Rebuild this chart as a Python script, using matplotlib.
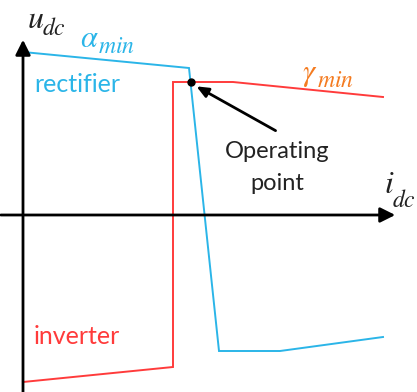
import matplotlib
matplotlib.use("Agg")
import matplotlib.pyplot as plt

plt.rcParams['mathtext.fontset'] = 'stix'

# Rectifier characteristic (alpha_min)
rect_x = [0, 166, 196, 257, 360]
rect_y = [163, 147, -136, -136, -122]
# Inverter characteristic (gamma_min)
inv_x = [0, 150, 150, 210, 360]
inv_y = [-167, -152, 133, 133, 118]
# Operating point
op_x, op_y = 168, 133

BLUE = '#2BB5E8'
RED = '#FF3B3B'
ORANGE = '#F47B20'
DARK = '#222222'

fig = plt.figure(figsize=(4.17, 3.92), dpi=100)
ax = fig.add_axes([0, 0, 1, 1])
ax.set_xlim(-23, 394)
ax.set_ylim(-177, 215)
ax.axis('off')

# Axes with arrows
ax.annotate('', xy=(0, 178), xytext=(0, -180),
            arrowprops=dict(arrowstyle='-|>,head_length=0.9,head_width=0.45', color='black', lw=2))
ax.annotate('', xy=(375, 0), xytext=(-25, 0),
            arrowprops=dict(arrowstyle='-|>,head_length=0.9,head_width=0.45', color='black', lw=2))

ax.plot(rect_x, rect_y, color=BLUE, lw=1.4, solid_joinstyle='miter')
ax.plot(inv_x, inv_y, color=RED, lw=1.4, solid_joinstyle='miter')
ax.plot([op_x], [op_y], 'o', color='black', ms=5, zorder=5)

ax.annotate('', xy=(op_x + 3, op_y - 3), xytext=(255, 83),
            arrowprops=dict(arrowstyle='-|>,head_length=0.7,head_width=0.3', color='black', lw=2))


def sym(x, y, base, sub, color, bsize=23, ssize=17, dx=15, dy=-7):
    ax.text(x, y, '$' + base + '$', fontsize=bsize, color=color, ha='left', va='baseline')
    ax.text(x + dx, y + dy, '$' + sub + '$', fontsize=ssize, color=color, ha='left', va='baseline')


font = 'Lato'
sym(4, 187, 'u', 'dc', DARK, dx=15, dy=-7)
sym(57, 168, r'\alpha', 'min', BLUE, bsize=22, dx=18, dy=-6)
sym(279, 134, r'\gamma', 'min', ORANGE, bsize=22, dx=15, dy=-6)
sym(361, 22, 'i', 'dc', DARK, dx=8, dy=-14)

ax.text(11, 131, 'rectifier', fontsize=18, color=BLUE, family=font, ha='left', va='center')
ax.text(254, 64, 'Operating', fontsize=17, color=DARK, family=font, ha='center', va='center')
ax.text(254, 31, 'point', fontsize=17, color=DARK, family=font, ha='center', va='center')
ax.text(11, -122, 'inverter', fontsize=18, color=RED, family=font, ha='left', va='center')

fig.savefig('out.png', dpi=100)
